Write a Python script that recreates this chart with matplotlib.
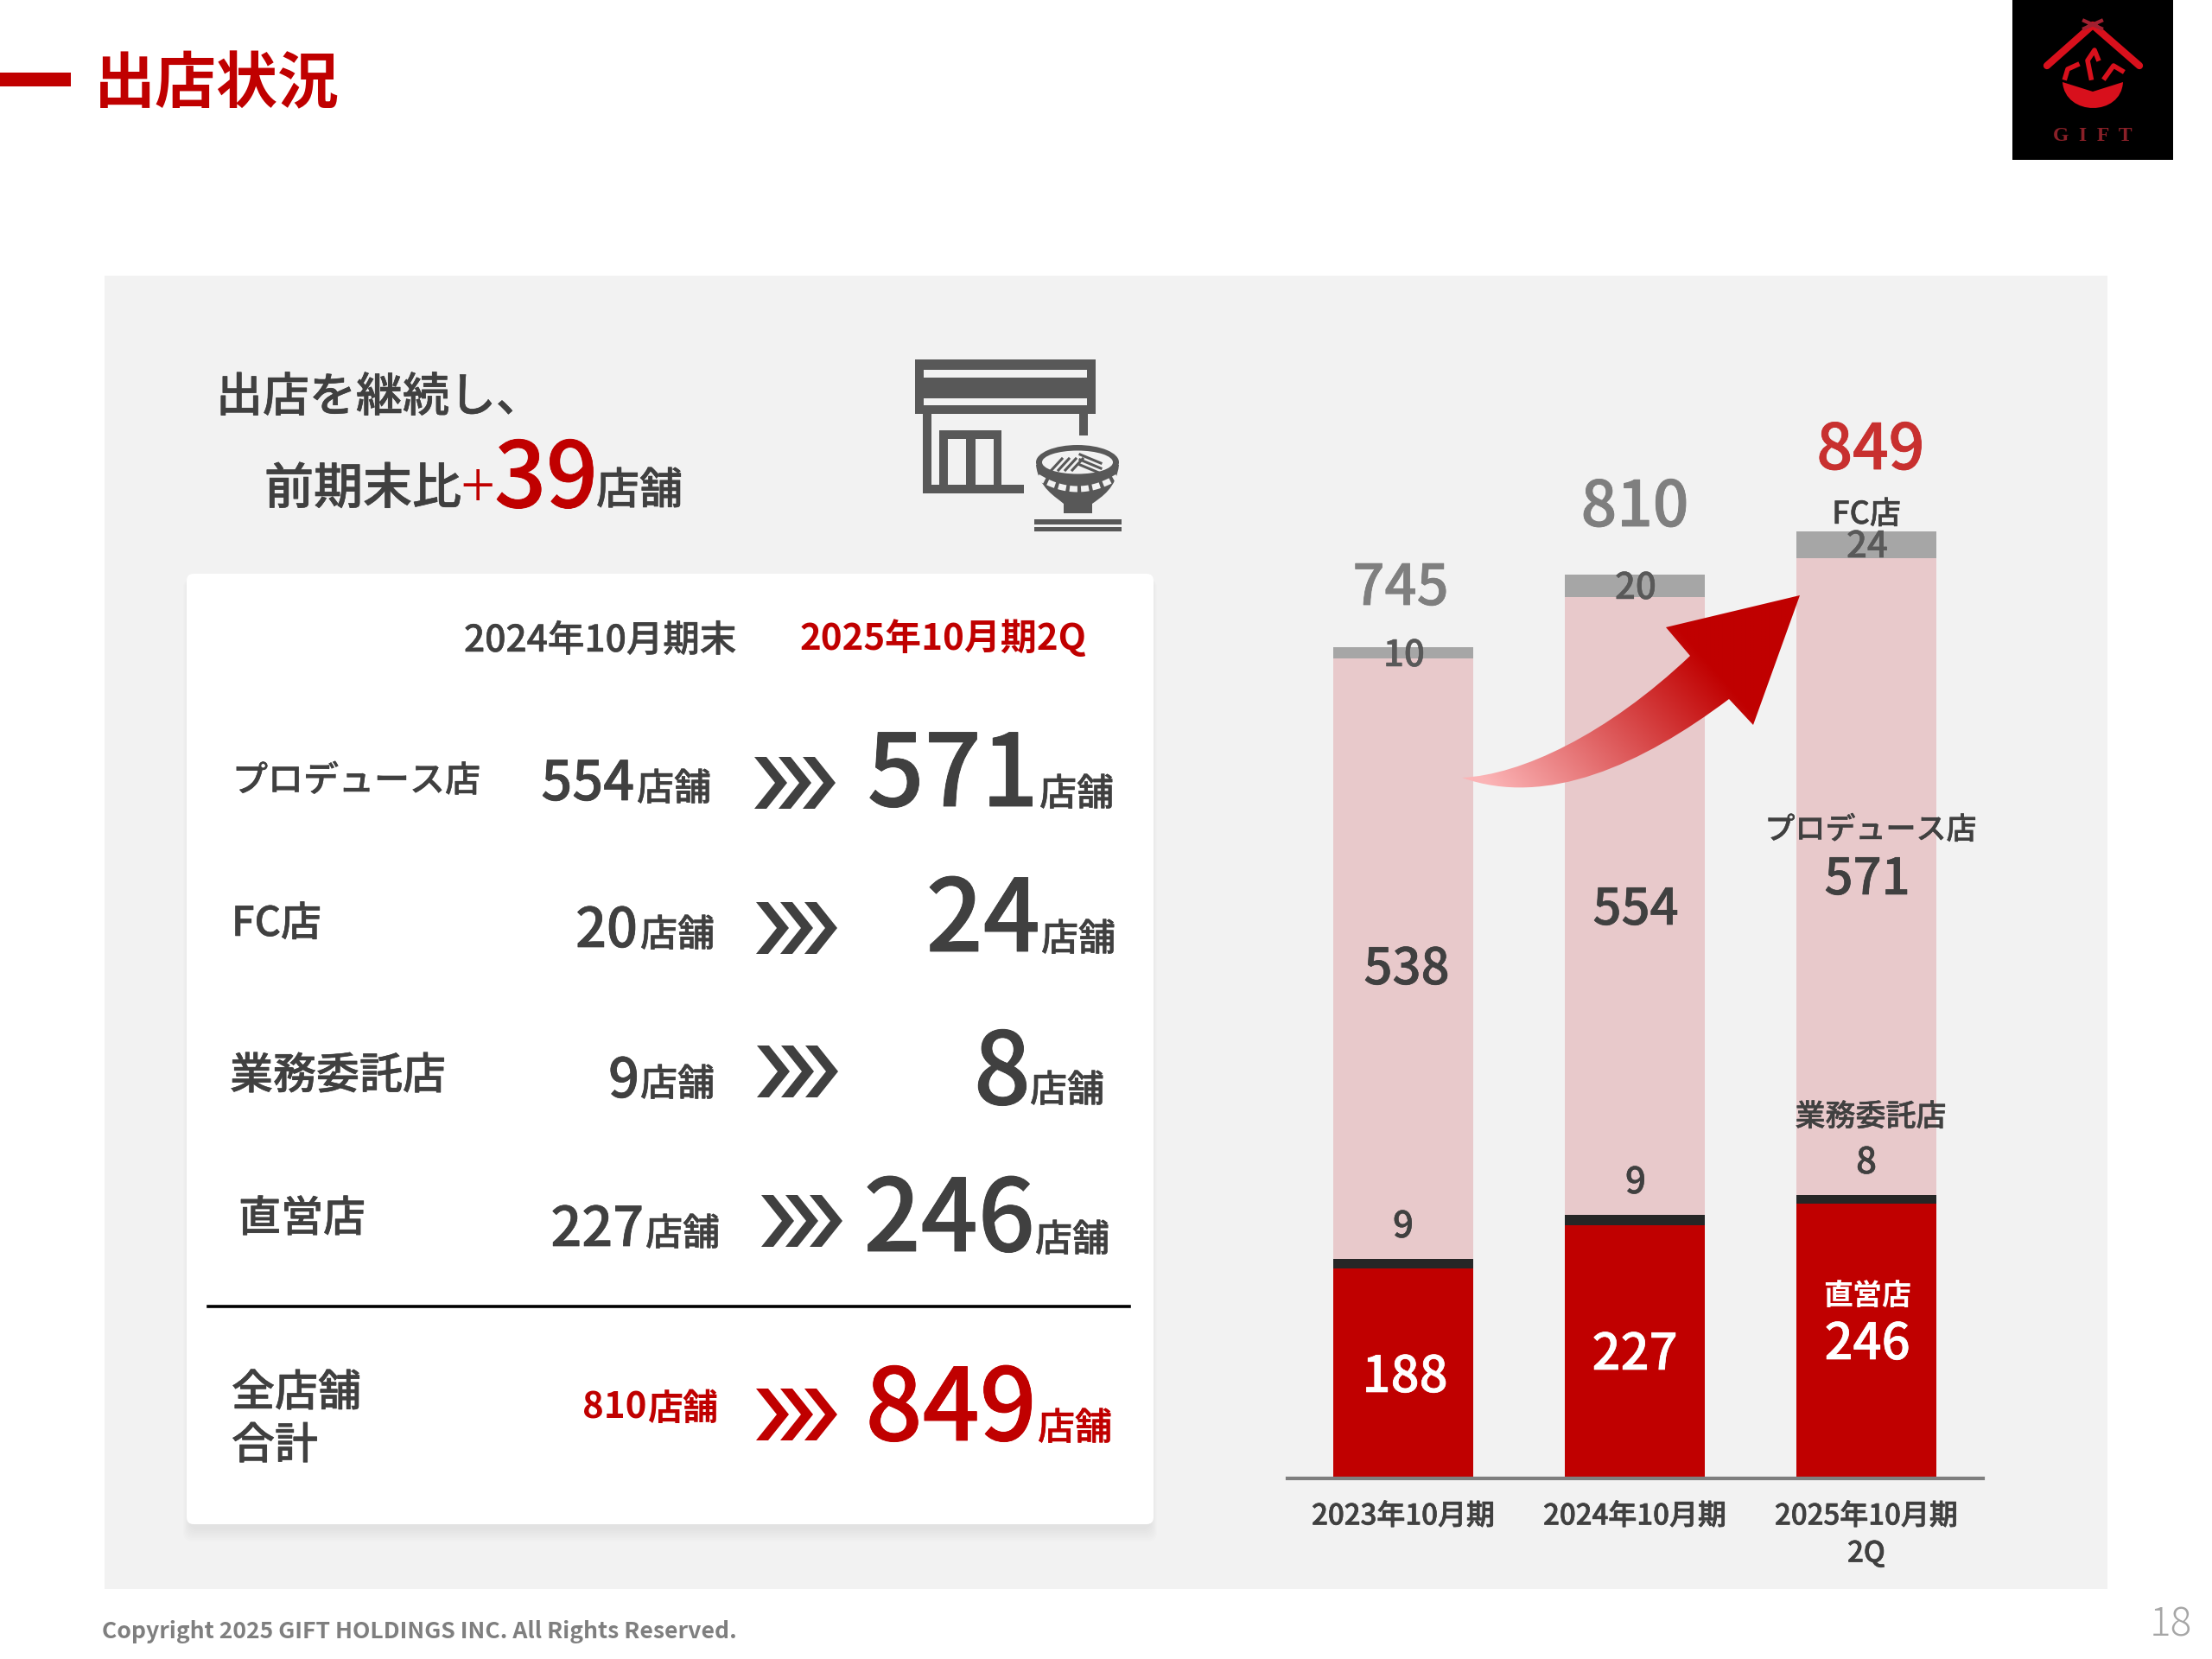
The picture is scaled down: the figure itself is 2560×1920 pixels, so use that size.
import matplotlib
matplotlib.use("Agg")
import matplotlib.pyplot as plt
from matplotlib.patches import Rectangle, FancyBboxPatch, Polygon, Ellipse, PathPatch
from matplotlib.path import Path
import matplotlib.patheffects as pe
import numpy as np

plt.rcParams['font.family'] = ['Noto Sans CJK JP', 'DejaVu Sans']

# data
categories = ["2023年10月期", "2024年10月期", "2025年10月期\n2Q"]
direct = [188, 227, 246]
contract = [9, 9, 8]
produce = [538, 554, 571]
fc = [10, 20, 24]
totals = [745, 810, 849]

row_names = ["プロデュース店", "FC店", "業務委託店", "直営店"]
prev_counts = [554, 20, 9, 227]
cur_counts = [571, 24, 8, 246]
total_prev = 810
total_cur = 849
increase = 39

RED = "#C00000"
DARK = "#404040"
PANEL = "#F2F2F2"
ICON = "#585858"
W, H = 2560, 1920

fig = plt.figure(figsize=(W / 100, H / 100), dpi=100, facecolor="white")


def pixel_axes(zorder):
    a = fig.add_axes([0, 0, 1, 1], zorder=zorder)
    a.set_xlim(0, W)
    a.set_ylim(H, 0)
    a.axis("off")
    a.patch.set_alpha(0)
    return a


bg = pixel_axes(0)
fg = pixel_axes(3)


def txt(x, y, s, px, color=DARK, weight="medium", ha="left", ax=fg, **kw):
    t = ax.text(x, y, s, fontsize=px * 0.72, color=color, fontweight=weight,
                ha=ha, va="baseline", **kw)
    if weight == "medium":
        # the regular cut is a bit thin next to the original
        t.set_path_effects([pe.withStroke(linewidth=min(px * 0.008, 0.6), foreground=color)])
    return t


def chevrons(x, yc, color=DARK):
    for k in range(3):
        x0 = x + 28 * k
        fg.add_patch(Polygon([(x0, yc - 30), (x0 + 14, yc - 30), (x0 + 38, yc),
                              (x0 + 14, yc + 30), (x0, yc + 30), (x0 + 24, yc)],
                             closed=True, fc=color, ec="none"))


# title and panels
bg.add_patch(Rectangle((0, 84), 82, 16, fc=RED, ec="none"))
txt(109, 119, "出店状況", 71, color=RED, weight="bold", ax=bg)
bg.add_patch(Rectangle((121, 319), 2318, 1520, fc=PANEL, ec="none"))
for k in range(8):
    g = 16 - 2 * k
    bg.add_patch(FancyBboxPatch((216 + 4 - g / 2, 664 + 6), 1119 - 8 + g, 1100 + g - 2,
                                boxstyle="round,pad=0,rounding_size=10",
                                fc="black", ec="none", alpha=0.008))
bg.add_patch(FancyBboxPatch((216, 664), 1119, 1100, boxstyle="round,pad=0,rounding_size=8",
                            fc="white", ec="none"))

# logo
bg.add_patch(Rectangle((2329, 0), 186, 185, fc="black", ec="none"))
LOGO = "#D8101C"
bg.plot([2369, 2422, 2476], [76, 29, 76], color=LOGO, lw=6, solid_capstyle="round")
bg.plot([2412, 2432], [24, 33], color="#A02030", lw=3)
bg.plot([2432, 2412], [24, 33], color="#A02030", lw=3)
bg.add_patch(PathPatch(Path([(2387, 95), (2390, 135), (2455, 135), (2457, 95), (2422, 106), (2387, 95)],
                            [Path.MOVETO, Path.CURVE4, Path.CURVE4, Path.CURVE4,
                             Path.LINETO, Path.CLOSEPOLY]), fc=LOGO, ec="none"))
bg.plot([2390, 2393, 2404], [90, 80, 75], color=LOGO, lw=4)
bg.plot([2436, 2446, 2456], [90, 76, 82], color=LOGO, lw=4)
bg.plot([2420, 2416, 2424, 2428], [90, 70, 58, 68], color=LOGO, lw=4)
bg.text(2422, 163, "G  I  F  T", fontsize=17, color="#8A2028", family="Liberation Serif",
        fontweight="bold", ha="center", va="baseline")

# headline
txt(250, 476, "出店を継続し、", 54)
txt(306, 583, "前期末比", 57)
txt(533, 588, "+", 72, color=RED, weight="light")
txt(632, 587, str(increase), 105, color=RED, ha="center")
txt(690, 583, "店舗", 50)

# store icon
for r in [(1059, 416, 209, 63), (1068, 479, 10, 92), (1249, 479, 10, 25),
          (1068, 561, 117, 10), (1087, 498, 72, 63)]:
    bg.add_patch(Rectangle(r[:2], r[2], r[3], fc=ICON, ec="none"))
for r in [(1069, 428, 189, 9), (1069, 461, 189, 8), (1097, 508, 21, 53), (1129, 508, 21, 53)]:
    bg.add_patch(Rectangle(r[:2], r[2], r[3], fc=PANEL, ec="none"))
bg.add_patch(PathPatch(Path([(1199, 538), (1202, 565), (1222, 575), (1231, 583), (1231, 594),
                             (1264, 594), (1264, 583), (1275, 575), (1292, 565), (1295, 538), (1199, 538)],
                            [Path.MOVETO, Path.CURVE4, Path.CURVE4, Path.CURVE4, Path.LINETO, Path.LINETO,
                             Path.LINETO, Path.CURVE4, Path.CURVE4, Path.CURVE4, Path.CLOSEPOLY]),
                       fc=ICON, ec="none"))
bg.add_patch(Ellipse((1247, 535), 96, 40, fc=ICON, ec="none"))
bg.add_patch(Ellipse((1247, 535), 82, 27, fc=PANEL, ec="none"))
for dx in [-26, -18, -10, -2]:
    bg.plot([1247 + dx - 4, 1247 + dx + 8], [544, 531], color=ICON, lw=2.2)
for dy in [-4, 2, 8]:
    bg.plot([1250, 1274], [534 + dy - 4, 534 + dy + 6], color=ICON, lw=2.2)
band = np.linspace(-1, 1, 40)
bg.plot(1247 + 46 * band, 566 - 14 * band ** 2, color=PANEL, lw=5, ls=(0, (1.3, 0.6)))
bg.add_patch(Rectangle((1197, 601), 101, 6, fc=ICON, ec="none"))
bg.add_patch(Rectangle((1197, 610), 101, 5, fc=ICON, ec="none"))

# comparison table
txt(537, 754, "2024年10月期末", 42.5)
txt(926, 752, "2025年10月期2Q", 42, color=RED, weight="bold")

name_pos = [(269, 916, 41), (268, 1083, 47), (266, 1260, 50), (276, 1425, 49)]
prev_pos = [(734, 926), (738, 1096), (740, 1270), (745, 1442)]
unit_prev_pos = [(737, 926), (741, 1095), (741, 1268), (747, 1441)]
chev_pos = [(873, 906), (875, 1074), (876, 1240), (881, 1413)]
cur_pos = [(1202, 933), (1204, 1101), (1193, 1278), (1198, 1448)]
unit_cur_pos = [(1203, 932), (1205, 1100), (1192, 1275), (1198, 1448)]

for i, name in enumerate(row_names):
    txt(name_pos[i][0], name_pos[i][1], name, name_pos[i][2])
    txt(prev_pos[i][0], prev_pos[i][1], str(prev_counts[i]), 63, ha="right")
    txt(unit_prev_pos[i][0], unit_prev_pos[i][1], "店舗", 43)
    chevrons(*chev_pos[i])
    txt(cur_pos[i][0], cur_pos[i][1], str(cur_counts[i]), 116, ha="right")
    txt(unit_cur_pos[i][0], unit_cur_pos[i][1], "店舗", 43)

fg.plot([241, 1307], [1512, 1512], color="black", lw=2.6)
txt(268, 1627, "全店舗", 50)
txt(268, 1688, "合計", 50)
txt(748, 1641, str(total_prev), 42, color=RED, ha="right", weight="bold")
txt(749, 1643, "店舗", 41, color=RED, weight="bold")
chevrons(875, 1637, RED)
txt(1200, 1667, str(total_cur), 116, color=RED, ha="right")
txt(1201, 1666, "店舗", 43, color=RED)

# stacked bars
bar_left, bar_right = 1490, 2295
base_y, per_store = 1711, 1.291
y_top = 1100
ax = fig.add_axes([bar_left / W, 1 - base_y / H, (bar_right - bar_left) / W, y_top * per_store / H], zorder=1)
ax.patch.set_alpha(0)
ax.set_xlim(-0.5, 2.504)
ax.set_ylim(0, y_top)
x = np.arange(len(categories))
bottom = np.zeros(len(categories))
for values, color in [(direct, RED), (contract, "#262626"), (produce, "#E8C9CB"), (fc, "#A6A6A6")]:
    ax.bar(x, values, width=0.605, bottom=bottom, color=color, linewidth=0)
    bottom += np.array(values)
for s in ["top", "left", "right"]:
    ax.spines[s].set_visible(False)
ax.spines["bottom"].set_color("#7F7F7F")
ax.spines["bottom"].set_linewidth(3)
ax.set_yticks([])
ax.set_xticks(x)
labels = ax.set_xticklabels(categories, fontsize=33 * 0.72, color=DARK, fontweight="medium", linespacing=1.3)
for lab in labels:
    lab.set_path_effects([pe.withStroke(linewidth=0.5, foreground=DARK)])
ax.tick_params(axis="x", length=0, pad=19)

# curved arrow with gradient
arrow_path = Path(
    [(1692, 900), (1760, 897), (1860, 850), (1956, 759), (1928, 726), (2083, 689),
     (2029, 839), (2001, 809), (1900, 885), (1790, 935), (1692, 900), (1692, 900)],
    [Path.MOVETO, Path.CURVE4, Path.CURVE4, Path.CURVE4, Path.LINETO, Path.LINETO,
     Path.LINETO, Path.LINETO, Path.CURVE4, Path.CURVE4, Path.CURVE4, Path.CLOSEPOLY])
gx, gy = np.meshgrid(np.linspace(1680, 2090, 200), np.linspace(680, 920, 120))
grad = ((gx - 1720) * 0.75 - (gy - 905) * 0.66) / 285
grad = np.clip(grad, 0, 1)
start = np.array([0xFB, 0xB4, 0xB6]) / 255
end = np.array([0xC0, 0x00, 0x00]) / 255
rgb = start + grad[..., None] * (end - start)
im = fg.imshow(rgb, extent=(1680, 2090, 920, 680), aspect="auto", interpolation="bilinear", zorder=1)
im.set_clip_path(PathPatch(arrow_path, transform=fg.transData))
fg.set_xlim(0, W)
fg.set_ylim(H, 0)

# bar labels
GREY_TOTAL = "#7F7F7F"
total_pos = [(1621, 700, 65, GREY_TOTAL), (1892, 609, 73, GREY_TOTAL), (2165, 543, 73, "#C8302F")]
for i, v in enumerate(totals):
    px_x, px_y, size, col = total_pos[i]
    txt(px_x, px_y, str(v), size, color=col, ha="center", zorder=3)

fc_pos = [(1625, 771), (1893, 693), (2161, 645)]
produce_pos = [(1628, 1139), (1893, 1070), (2161, 1035)]
contract_pos = [(1624, 1432), (1893, 1381), (2160, 1358)]
direct_pos = [(1626, 1611), (1892, 1585), (2161, 1573)]
for i in range(3):
    txt(fc_pos[i][0], fc_pos[i][1], str(fc[i]), 42, color="#595959", ha="center", zorder=3)
    txt(produce_pos[i][0], produce_pos[i][1], str(produce[i]), 58, ha="center", zorder=3)
    txt(contract_pos[i][0], contract_pos[i][1], str(contract[i]), 42, ha="center", zorder=3)
    txt(direct_pos[i][0], direct_pos[i][1], str(direct[i]), 58, color="white", ha="center", zorder=3)

txt(2160, 606, "FC店", 36, ha="center", zorder=3)
txt(2165, 971, "プロデュース店", 35, ha="center", zorder=3)
txt(2165, 1303, "業務委託店", 35, ha="center", zorder=3)
txt(2161, 1510, "直営店", 34, color="white", weight="bold", ha="center", zorder=3)

# footer
txt(118, 1896, "Copyright 2025 GIFT HOLDINGS INC. All Rights Reserved.", 26.6, color="#7F7F7F", weight="bold")
txt(2488, 1893, "18", 46, color="#A6A6A6", weight="light")

fig.savefig("out.png", dpi=100)
